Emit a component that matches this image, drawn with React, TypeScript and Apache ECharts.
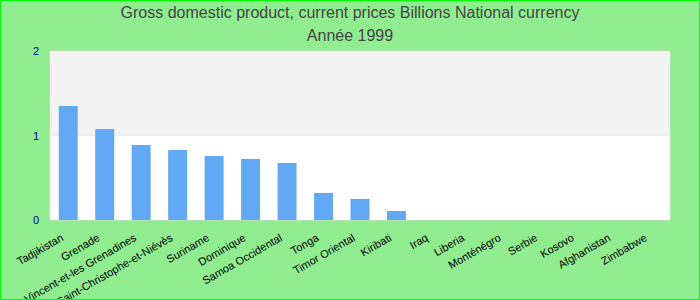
import React, { useEffect, useRef } from "react";
import * as echarts from "echarts";

const titleText = "Gross domestic product, current prices Billions National currency";
const subtitleText = "Année 1999";
const countries = [
  "Tadjikistan",
  "Grenade",
  "Saint-Vincent-et-les Grenadines",
  "Saint-Christophe-et-Niévès",
  "Suriname",
  "Dominique",
  "Samoa Occidental",
  "Tonga",
  "Timor Oriental",
  "Kiribati",
  "Iraq",
  "Liberia",
  "Monténégro",
  "Serbie",
  "Kosovo",
  "Afghanistan",
  "Zimbabwe",
];
const gdpValues = [1.35, 1.077, 0.888, 0.828, 0.757, 0.722, 0.675, 0.32, 0.249, 0.107, 0, 0, 0, 0, 0, 0, 0];
const yMin = 0;
const yMax = 2;
const yInterval = 1;

export default function App() {
  const ref = useRef<HTMLDivElement>(null);
  useEffect(() => {
    document.body.style.margin = "0";
    const chart = echarts.init(ref.current!, null, { renderer: "svg" });
    chart.setOption({
      animation: false,
      backgroundColor: "#90EE90",
      textStyle: { fontFamily: "Liberation Sans, Arial, sans-serif" },
      title: {
        text: titleText,
        subtext: subtitleText,
        left: "center",
        top: -2,
        itemGap: 7,
        textStyle: { fontSize: 16, fontWeight: "normal", color: "#444" },
        subtextStyle: { fontSize: 16, color: "#444" },
      },
      grid: {
        left: 49,
        right: 29,
        top: 50,
        bottom: 79,
        outerBoundsMode: "none",
        containLabel: false,
        show: true,
        borderColor: "#d4d4d4",
        borderWidth: 1,
        backgroundColor: "transparent",
      },
      xAxis: {
        type: "category",
        data: countries,
        axisLine: { show: false },
        axisTick: { show: false },
        axisLabel: {
          interval: 0,
          rotate: 30,
          margin: 13,
          fontSize: 11,
          color: "#000",
          padding: [0, 7, 0, 0],
        },
      },
      yAxis: {
        type: "value",
        min: yMin,
        max: yMax,
        interval: yInterval,
        axisLine: { show: false },
        axisTick: { show: false },
        splitLine: { show: false },
        splitArea: { show: true, areaStyle: { color: ["#ffffff", "#f3f3f3"] } },
        axisLabel: { fontSize: 11, color: "#00009a", margin: 11 },
      },
      series: [
        {
          type: "bar",
          data: gdpValues,
          barWidth: "52%",
          itemStyle: { color: "#62a9f5" },
        },
      ],
    });
    return () => chart.dispose();
  }, []);
  return (
    <div
      style={{
        position: "absolute",
        left: 0,
        top: 0,
        width: 700,
        height: 300,
        boxSizing: "border-box",
        border: "1px solid #00ff00",
        background: "#90EE90",
      }}
    >
      <div ref={ref} style={{ width: 698, height: 298 }} />
    </div>
  );
}
